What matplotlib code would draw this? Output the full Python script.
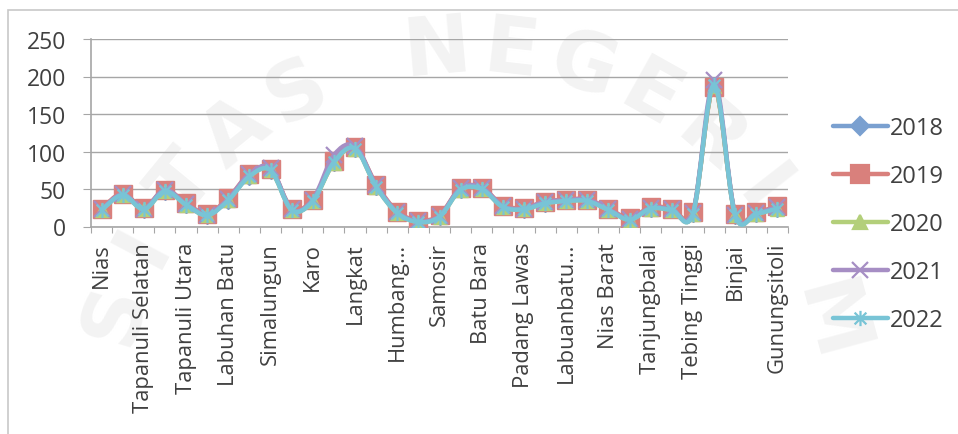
import numpy as np
import matplotlib
matplotlib.use("Agg")
import matplotlib.pyplot as plt
from matplotlib.path import Path
from matplotlib.patches import PathPatch, Rectangle
from matplotlib.lines import Line2D

# Kabupaten/kota Sumatera Utara (urutan BPS)
regions = ["Nias", "Mandailing Natal", "Tapanuli Selatan", "Tapanuli Tengah",
           "Tapanuli Utara", "Toba", "Labuhan Batu", "Asahan", "Simalungun",
           "Dairi", "Karo", "Deli Serdang", "Langkat", "Nias Selatan",
           "Humbang Hasundutan", "Pakpak Bharat", "Samosir", "Serdang Bedagai",
           "Batu Bara", "Padang Lawas Utara", "Padang Lawas",
           "Labuhanbatu Selatan", "Labuanbatu Utara", "Nias Utara", "Nias Barat",
           "Sibolga", "Tanjungbalai", "Pematangsiantar", "Tebing Tinggi",
           "Medan", "Binjai", "Padangsidimpuan", "Gunungsitoli"]

# label sumbu x yang tampil (tiap dua kategori)
tick_labels = ["Nias", "Tapanuli Selatan", "Tapanuli Utara", "Labuhan Batu",
               "Simalungun", "Karo", "Langkat", "Humbang…", "Samosir",
               "Batu Bara", "Padang Lawas", "Labuanbatu…", "Nias Barat",
               "Tanjungbalai", "Tebing Tinggi", "Binjai", "Gunungsitoli"]

years = ["2018", "2019", "2020", "2021", "2022"]
v2018 = [23, 43, 24, 48, 30, 16, 36, 68, 76, 23, 35, 86, 105, 54, 19, 7, 14,
         50, 51, 27, 24, 32, 35, 35, 23, 10, 25, 23, 18, 188, 16, 18, 25]
v2019 = [24, 44, 25, 49, 31, 17, 38, 70, 77, 24, 36, 87, 106, 56, 20, 8, 15,
         51, 52, 28, 25, 33, 36, 36, 24, 11, 26, 24, 19, 186, 17, 19, 27]
v2020 = [22, 42, 23, 47, 29, 15, 36, 67, 75, 22, 34, 85, 104, 53, 18, 6, 13,
         49, 50, 26, 23, 31, 34, 34, 22, 9, 24, 22, 17, 187, 15, 17, 24]
v2021 = [23, 43, 24, 49, 30, 16, 37, 70, 78, 23, 36, 95, 107, 55, 19, 7, 14,
         51, 52, 27, 24, 33, 35, 36, 23, 10, 25, 23, 18, 195, 16, 18, 26]
v2022 = [22, 42, 23, 47, 29, 15, 35, 67, 75, 22, 34, 86, 104, 53, 18, 6, 13,
         49, 50, 26, 23, 31, 34, 34, 22, 9, 24, 22, 17, 189, 15, 17, 24]
series = [v2018, v2019, v2020, v2021, v2022]

colors = ["#7aa0d0", "#d9807c", "#b3cf7a", "#a68ec4", "#78c4d6"]

# penanda asterisk ala Excel: x + garis tegak
star = Path([(-1, -1), (1, 1), (-1, 1), (1, -1), (0, -1.3), (0, 1.3)],
            [Path.MOVETO, Path.LINETO, Path.MOVETO, Path.LINETO,
             Path.MOVETO, Path.LINETO])
markers = [("D", 9, True), ("s", 12.5, True), ("^", 10, True),
           ("x", 11, False), (star, 11, False)]

plt.rcParams["font.family"] = ["Open Sans", "DejaVu Sans"]
txt = "#404040"


def smooth_path(x, y):
    # kurva bezier kubik lewat setiap titik (garis halus)
    x = np.asarray(x, float)
    y = np.asarray(y, float)
    n = len(x)
    verts = [(x[0], y[0])]
    codes = [Path.MOVETO]
    for i in range(n - 1):
        x0, y0 = (x[i - 1], y[i - 1]) if i > 0 else (x[i], y[i])
        x3, y3 = (x[i + 2], y[i + 2]) if i + 2 < n else (x[i + 1], y[i + 1])
        c1 = (x[i] + (x[i + 1] - x0) / 6, y[i] + (y[i + 1] - y0) / 6)
        c2 = (x[i + 1] - (x3 - x[i]) / 6, y[i + 1] - (y3 - y[i]) / 6)
        verts += [c1, c2, (x[i + 1], y[i + 1])]
        codes += [Path.CURVE4] * 3
    return Path(verts, codes)


W, H = 958, 435
fig = plt.figure(figsize=(W / 100, H / 100), dpi=100)

# tanda air logo di latar belakang (huruf yang masuk bingkai saja)
wm = "UNIVERSITAS NEGERI MEDAN"
cx, cy, r = 470, 420, 370
for k, ch in enumerate(wm):
    ang = np.radians(95 + (12 - k) * 11.4)
    px = cx + r * np.cos(ang)
    py = cy - r * np.sin(ang)
    if ch == " " or py > 340 or px < 60 or px > 900:
        continue
    fig.text(px / W, 1 - py / H, ch, fontsize=58, fontweight="bold",
             color="#f3f3f3", ha="center", va="center",
             rotation=np.degrees(ang) - 90, zorder=-5,
             family="DejaVu Sans")

fig.patches.append(Rectangle((8 / W, -0.1), 1.1, 1 - 11 / H + 0.1,
                             transform=fig.transFigure, fill=False,
                             edgecolor="#c8c8c8", linewidth=1.2))
ax = fig.add_axes([91 / W, 1 - 227.5 / H, 697 / W, 187.5 / H])

x = np.arange(len(regions))
handles = []
for vals, col, (mk, ms, filled), yr in zip(series, colors, markers, years):
    ax.add_patch(PathPatch(smooth_path(x, vals), fill=False, edgecolor=col,
                           linewidth=3.2, capstyle="round", zorder=3))
    if filled:
        ax.plot(x, vals, linestyle="none", marker=mk, markersize=ms,
                markerfacecolor=col, markeredgecolor=col, zorder=3)
    else:
        ax.plot(x, vals, linestyle="none", marker=mk, markersize=ms,
                markeredgecolor=col, markeredgewidth=1.6, zorder=3)
    handles.append(Line2D([], [], color=col, linewidth=3.2, marker=mk,
                          markersize=ms, markerfacecolor=col,
                          markeredgecolor=col, markeredgewidth=1.6,
                          solid_capstyle="round", label=yr))

ax.set_xlim(-0.5, len(regions) - 0.5)
ax.set_ylim(0, 250)
ax.set_yticks(range(0, 251, 50))
ax.yaxis.grid(True, color="#a6a6a6", linewidth=1)
ax.set_axisbelow(True)
ax.set_facecolor("none")

ax.set_xticks(np.arange(-0.5, len(regions), 1))
ax.set_xticklabels([])
ax.set_xticks(x[::2], minor=True)
ax.set_xticklabels(tick_labels, minor=True, rotation=90, ha="center",
                   va="top")
ax.tick_params(axis="x", which="major", length=4.5, color="#a6a6a6")
ax.tick_params(axis="x", which="minor", length=0, pad=11, labelsize=15.8,
               labelcolor=txt)
ax.tick_params(axis="y", length=6, color="#a6a6a6", labelsize=16.5,
               labelcolor=txt, pad=12)

for s in ["top", "right"]:
    ax.spines[s].set_visible(False)
for s in ["left", "bottom"]:
    ax.spines[s].set_color("#a6a6a6")
    ax.spines[s].set_linewidth(1.2)

fig.legend(handles=handles, loc="center left",
           bbox_to_anchor=(812 / W, 1 - 225 / H), frameon=False,
           fontsize=17, labelcolor=txt, handlelength=2.3,
           handletextpad=0.1, labelspacing=1.02)

fig.savefig("out.png", dpi=100)
